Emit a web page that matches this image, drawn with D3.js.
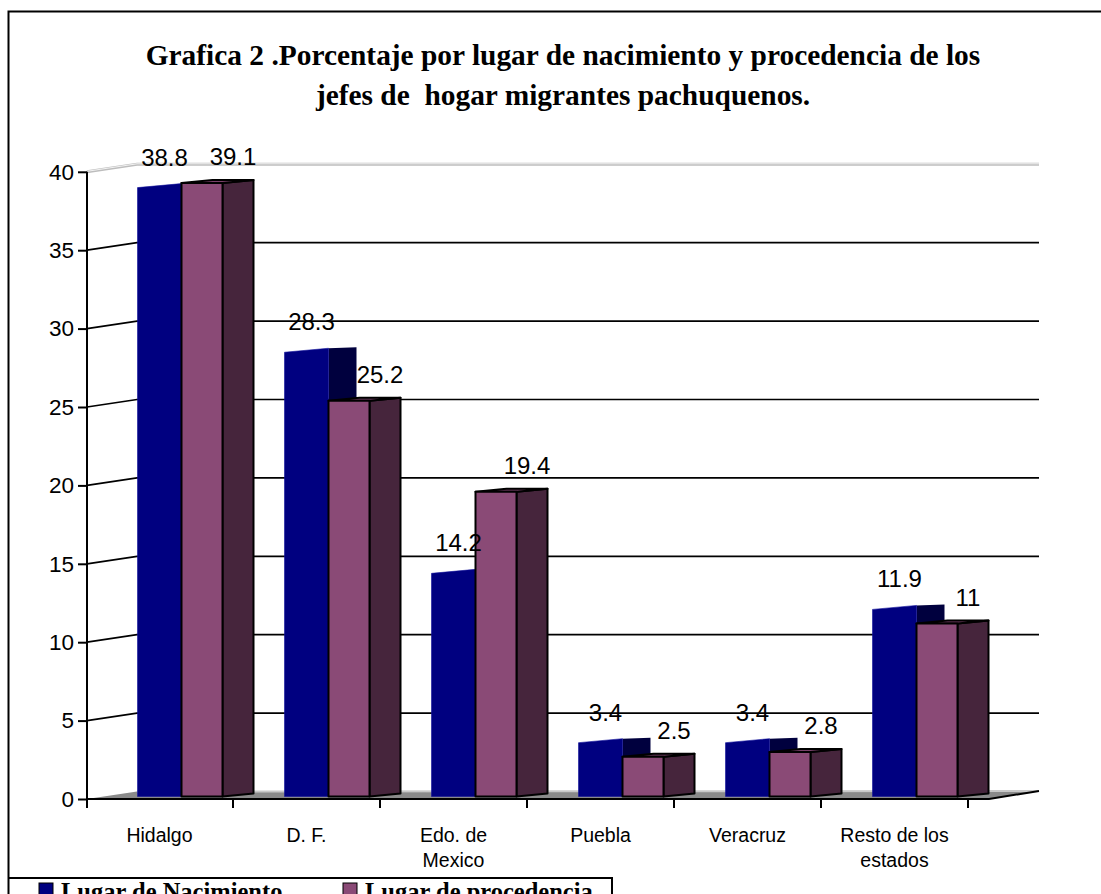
<!DOCTYPE html>
<html>
<head>
<meta charset="utf-8">
<script src="https://cdn.jsdelivr.net/npm/d3@7"></script>
<style>
  body { margin: 0; background: #fff; }
  svg { display: block; }
</style>
</head>
<body>
<svg id="chart"></svg>
<script>
const width = 1101;
const height = 894;

// data
const categories = ['Hidalgo', 'D. F.', 'Edo. de Mexico', 'Puebla', 'Veracruz', 'Resto de los estados'];
const categoryLines = [['Hidalgo'], ['D. F.'], ['Edo. de', 'Mexico'], ['Puebla'], ['Veracruz'], ['Resto de los', 'estados']];
const nacimiento = [38.8, 28.3, 14.2, 3.4, 3.4, 11.9];
const procedencia = [39.1, 25.2, 19.4, 2.5, 2.8, 11];
const yTicks = [0, 5, 10, 15, 20, 25, 30, 35, 40];
const seriesNames = ['Lugar de Nacimiento', 'Lugar de procedencia'];
const titleLines = [
  'Grafica 2 .Porcentaje por lugar de nacimiento y procedencia de los',
  'jefes de  hogar migrantes pachuquenos.'
];

const blue = '#000080', blueSide = '#00003e';
const purple = '#8a4a76', purpleSide = '#46253c';
const sans = '"Liberation Sans", Arial, sans-serif';
const serif = '"Liberation Serif", "Times New Roman", serif';

const svg = d3.select('#chart')
  .attr('width', width)
  .attr('height', height);

// outer frame (right and bottom sides fall outside the picture)
svg.append('path')
  .attr('d', 'M8.5,894 V11.5 H1101')
  .attr('fill', 'none').attr('stroke', '#000').attr('stroke-width', 2);

const x = d3.scaleBand().domain(categories).range([86, 968]);
const y = d3.scaleLinear().domain([0, 40]).range([799, 171.8]);

// wall depth offset
const dx = 50, dy = -7.5;
const wallRight = 1039;

// title
svg.append('g').selectAll('text')
  .data(titleLines)
  .enter().append('text')
  .attr('x', 563)
  .attr('y', (d, i) => 65 + i * 40)
  .attr('text-anchor', 'middle')
  .attr('font-family', serif)
  .attr('font-weight', 'bold')
  .attr('font-size', 29.4)
  .style('white-space', 'pre')
  .text(d => d);

// floor
const floor = svg.append('g');
floor.append('path')
  .attr('d', `M87,${y(0)} L${87 + dx},${y(0) + dy} L${wallRight},${y(0) + dy - 0.5} L${wallRight - dx},${y(0)} Z`)
  .attr('fill', '#8a8a8a');
floor.append('line')
  .attr('x1', 87 + dx).attr('y1', y(0) + dy)
  .attr('x2', wallRight).attr('y2', y(0) + dy - 0.5)
  .attr('stroke', '#c8c8c8').attr('stroke-width', 2);

// gridlines: slanted on the left wall, flat on the back wall
const grid = svg.append('g').attr('fill', 'none');
grid.selectAll('path')
  .data(yTicks.filter(d => d > 0))
  .enter().append('path')
  .attr('d', d => `M87,${y(d)} L${87 + dx},${y(d) + dy} H${wallRight}`)
  .attr('stroke', d => d === 40 ? '#bdbdbd' : '#000')
  .attr('stroke-width', d => d === 40 ? 3 : 1.7);
grid.append('path')
  .attr('d', `M87,${y(40) - 0.5} L${87 + dx},${y(40) + dy - 0.5} H${wallRight}`)
  .attr('stroke', '#fff').attr('stroke-width', 0.8);

// bars
const base = y(0) - 2.5;
const blueW = 44, purpleW = 41, sideW = 31, sideH = 3;
const bars = svg.append('g');

categories.forEach((c, i) => {
  const b = x(c) + 51.5;
  const p = b + blueW;
  const tb = y(nacimiento[i]) - 3;
  const tp = y(procedencia[i]) - 3;

  // blue column (no outline)
  bars.append('path')
    .attr('d', `M${p},${tb - 4} L${p + sideW - 3},${tb - 5} L${p + sideW - 3},${base - 3} L${p},${base} Z`)
    .attr('fill', blueSide);
  bars.append('path')
    .attr('d', `M${b},${tb} L${p},${tb - 4} L${p},${base} L${b},${base} Z`)
    .attr('fill', blue)
    .attr('stroke', '#10109a').attr('stroke-width', 0.6);

  // purple column
  const g = bars.append('g').attr('stroke', '#000').attr('stroke-width', 2).attr('stroke-linejoin', 'round');
  g.append('path')
    .attr('d', `M${p + purpleW},${tp} L${p + purpleW + sideW},${tp - sideH} L${p + purpleW + sideW},${base - sideH} L${p + purpleW},${base} Z`)
    .attr('fill', purpleSide);
  g.append('path')
    .attr('d', `M${p},${tp} L${p + sideW},${tp - sideH} L${p + purpleW + sideW},${tp - sideH} L${p + purpleW},${tp} Z`)
    .attr('fill', '#7a416a');
  g.append('rect')
    .attr('x', p).attr('y', tp)
    .attr('width', purpleW).attr('height', base - tp)
    .attr('fill', purple);
});

// value labels
const labels = svg.append('g')
  .attr('font-family', sans)
  .attr('font-size', 24)
  .attr('text-anchor', 'middle');
labels.selectAll('text.nac')
  .data(nacimiento)
  .enter().append('text')
  .attr('class', 'nac')
  .attr('x', (d, i) => x(categories[i]) + 51.5 + blueW / 2 + 5)
  .attr('y', d => y(d) - 3 - 22)
  .text(d => d);
labels.selectAll('text.pro')
  .data(procedencia)
  .enter().append('text')
  .attr('class', 'pro')
  .attr('x', (d, i) => x(categories[i]) + 51.5 + blueW + purpleW / 2 + 31)
  .attr('y', d => y(d) - 3 - 18)
  .text(d => d);

// front x axis edge and right floor edge
svg.append('path')
  .attr('d', `M86,${y(0)} H${wallRight - dx} L${wallRight},${y(0) + dy - 0.5}`)
  .attr('fill', 'none').attr('stroke', '#000').attr('stroke-width', 2);

// y axis
const yAxis = svg.append('g').attr('transform', 'translate(87,0)')
  .call(d3.axisLeft(y).tickValues(yTicks).tickSize(9).tickPadding(4).tickFormat(d3.format('d')));
yAxis.select('.domain').remove();
yAxis.append('line')
  .attr('x1', 0).attr('x2', 0)
  .attr('y1', y(40)).attr('y2', y(0) + 9)
  .attr('stroke', '#000').attr('stroke-width', 2);
yAxis.selectAll('.tick line').attr('stroke', '#000').attr('stroke-width', 2);
yAxis.selectAll('.tick text')
  .attr('font-family', sans)
  .attr('font-size', 22.5)
  .attr('fill', '#000');

// x axis ticks and category labels
const xTicks = svg.append('g');
xTicks.selectAll('line')
  .data(categories)
  .enter().append('line')
  .attr('x1', d => x(d) + x.bandwidth()).attr('x2', d => x(d) + x.bandwidth())
  .attr('y1', y(0)).attr('y2', y(0) + 9)
  .attr('stroke', '#000').attr('stroke-width', 2);

const catLabels = svg.append('g')
  .attr('font-family', sans)
  .attr('font-size', 19.5)
  .attr('text-anchor', 'middle');
categories.forEach((c, i) => {
  catLabels.append('text')
    .attr('x', x(c) + x.bandwidth() / 2)
    .attr('y', 842)
    .selectAll('tspan')
    .data(categoryLines[i])
    .enter().append('tspan')
    .attr('x', x(c) + x.bandwidth() / 2)
    .attr('dy', (d, j) => j === 0 ? 0 : 25)
    .text(d => d);
});

// legend (box runs past the bottom of the picture)
const legend = svg.append('g');
legend.append('path')
  .attr('d', 'M8,878 H612 V894')
  .attr('fill', 'none').attr('stroke', '#000').attr('stroke-width', 2);
const legendX = [39, 343];
const legendColors = [blue, purple];
seriesNames.forEach((s, i) => {
  legend.append('rect')
    .attr('x', legendX[i]).attr('y', 883)
    .attr('width', 14).attr('height', 14)
    .attr('fill', legendColors[i])
    .attr('stroke', '#000').attr('stroke-width', 1);
  legend.append('text')
    .attr('x', legendX[i] + 22).attr('y', 900)
    .attr('font-family', serif)
    .attr('font-weight', 'bold')
    .attr('font-size', 24.5)
    .text(s);
});
</script>
</body>
</html>
